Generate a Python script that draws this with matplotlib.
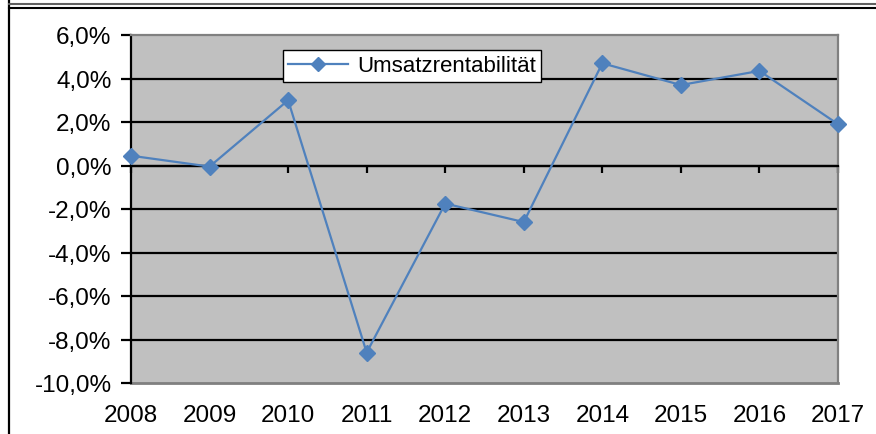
import matplotlib.pyplot as plt
from matplotlib.lines import Line2D

plt.rcParams["font.family"] = ["Liberation Sans", "DejaVu Sans"]

# Daten
years = [2008, 2009, 2010, 2011, 2012, 2013, 2014, 2015, 2016, 2017]
umsatzrentabilitaet = [0.45, -0.05, 3.0, -8.6, -1.75, -2.6, 4.7, 3.7, 4.35, 1.9]
y_ticks = [-10, -8, -6, -4, -2, 0, 2, 4, 6]
series_name = "Umsatzrentabilität"

line_color = "#4F81BD"
border_gray = "#808080"

fig = plt.figure(figsize=(8.76, 4.35), dpi=100)
ax = fig.add_axes([131 / 876, 1 - 384 / 435, (838 - 131) / 876, (384 - 36) / 435])
ax.set_facecolor("#C0C0C0")

ax.set_xlim(years[0], years[-1])
ax.set_ylim(y_ticks[0], y_ticks[-1])

# horizontale Gitterlinien
for v in y_ticks[1:-1]:
    ax.axhline(v, color="black", lw=1.6, zorder=1)

# Datenreihe
ax.plot(years, umsatzrentabilitaet, color=line_color, lw=1.6, marker="D",
        markersize=8.5, markerfacecolor=line_color, markeredgecolor=line_color,
        clip_on=False, zorder=5)

# y-Achse
ax.set_yticks(y_ticks)
ax.set_yticklabels([f"{v:.1f}%".replace(".", ",") for v in y_ticks], fontsize=17.5)
ax.tick_params(axis="y", direction="out", length=7, width=1.6, pad=7)

# x-Achse bei 0
ax.spines["bottom"].set_position(("data", 0))
ax.spines["bottom"].set_linewidth(1.6)
ax.set_xticks(years)
ax.tick_params(axis="x", direction="out", length=5, width=1.6, labelbottom=False)

sec = ax.secondary_xaxis("bottom")
sec.set_xticks(years)
sec.set_xticklabels([str(y) for y in years], fontsize=17.5)
sec.tick_params(length=0, pad=15)
sec.spines["bottom"].set_visible(False)

ax.spines["left"].set_linewidth(1.6)
for side in ["top", "right"]:
    ax.spines[side].set_color(border_gray)
    ax.spines[side].set_linewidth(1.6)
ax.plot([0, 1], [0, 0], transform=ax.transAxes, color=border_gray, lw=2, clip_on=False, zorder=0.5)

# Legende
handle = Line2D([], [], color=line_color, lw=1.6, marker="D", markersize=7,
                markerfacecolor=line_color, markeredgecolor=line_color)
leg = fig.legend([handle], [series_name], loc="center",
                 bbox_to_anchor=(412 / 876, 1 - 67 / 435), fontsize=16,
                 fancybox=False, framealpha=1, edgecolor="black",
                 handlelength=2.7, borderpad=0.25, handletextpad=0.4,
                 borderaxespad=0)
leg.get_frame().set_linewidth(1.0)

# Rahmen des Diagramms
fig.add_artist(Line2D([9 / 876, 9 / 876], [0, 1], transform=fig.transFigure, color="black", lw=1.6))
fig.add_artist(Line2D([9 / 876, 1], [1 - 8.5 / 435] * 2, transform=fig.transFigure, color="black", lw=1.5))
fig.add_artist(Line2D([9 / 876, 1], [1 - 4.5 / 435] * 2, transform=fig.transFigure, color="#606060", lw=1.5))

plt.savefig("out.png", dpi=100)
plt.close(fig)
